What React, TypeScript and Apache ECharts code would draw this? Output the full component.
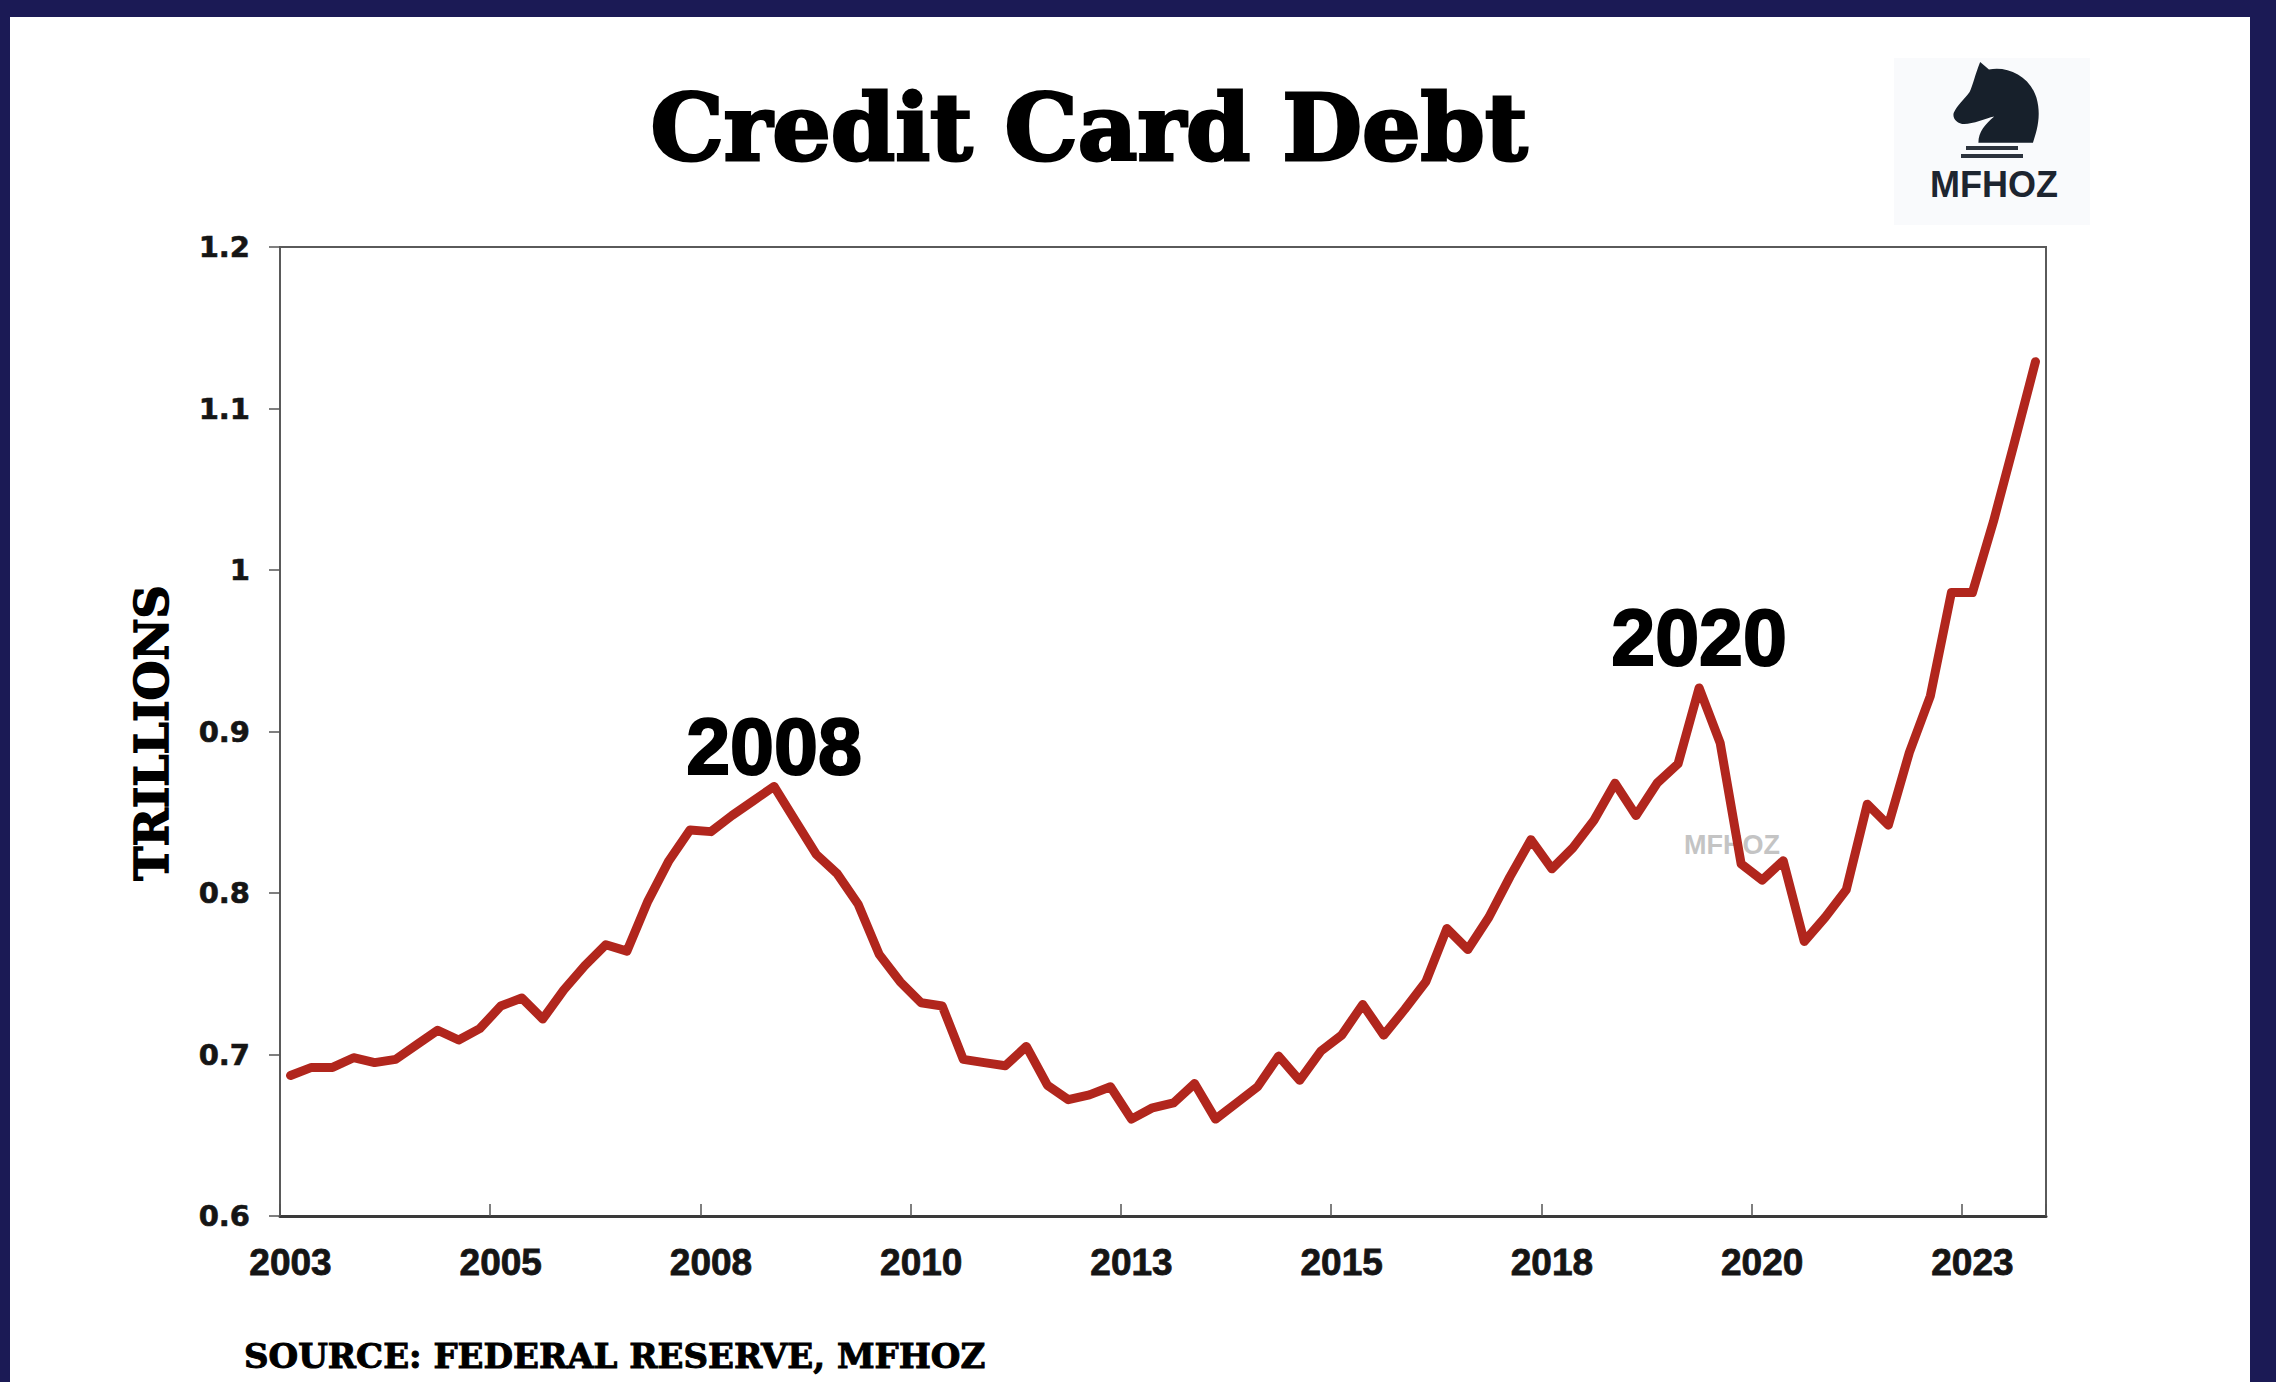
import React, { useEffect, useRef } from "react";
import * as echarts from "echarts";

// ---- DATA ----
const startYear = 2003;
const endYear = 2023;
const quarterNames = ["Q1", "Q2", "Q3", "Q4"];
// Credit card debt, trillions of dollars, quarterly 2003 Q1 .. 2023 Q4
const debtTrillions = [
  0.687, 0.692, 0.692, 0.698, // 2003
  0.695, 0.697, 0.706, 0.715, // 2004
  0.709, 0.716, 0.730, 0.735, // 2005
  0.722, 0.740, 0.755, 0.768, // 2006
  0.764, 0.795, 0.820, 0.839, // 2007
  0.838, 0.848, 0.857, 0.866, // 2008
  0.845, 0.824, 0.812, 0.793, // 2009
  0.762, 0.745, 0.732, 0.730, // 2010
  0.697, 0.695, 0.693, 0.705, // 2011
  0.681, 0.672, 0.675, 0.680, // 2012
  0.660, 0.667, 0.670, 0.682, // 2013
  0.660, 0.670, 0.680, 0.699, // 2014
  0.684, 0.702, 0.712, 0.731, // 2015
  0.712, 0.728, 0.745, 0.778, // 2016
  0.765, 0.785, 0.810, 0.833, // 2017
  0.815, 0.828, 0.845, 0.868, // 2018
  0.848, 0.868, 0.880, 0.927, // 2019
  0.893, 0.818, 0.808, 0.820, // 2020
  0.770, 0.785, 0.802, 0.855, // 2021
  0.842, 0.887, 0.922, 0.986, // 2022
  0.986, 1.030, 1.079, 1.129, // 2023
];
const peakAnnotations = [
  { text: "2008", quarter: "2008 Q4", lift: 40 },
  { text: "2020", quarter: "2019 Q4", lift: 50 },
];
const yMin = 0.6;
const yMax = 1.2;
const yStep = 0.1;
const labelEvery = 10; // quarters between x labels

const quarters: string[] = [];
for (let y = startYear; y <= endYear; y++) {
  for (const q of quarterNames) quarters.push(`${y} ${q}`);
}

// knight head silhouette (logo)
const knightPath =
  "M32 0 L42 8 C62 4 88 14 96 38 C102 58 96 74 92 86 L30 86 C30 74 38 66 48 58 C38 60 24 66 14 66 C6 66 0 60 2 54 C6 46 14 40 20 32 C24 24 26 14 32 0 Z";
let registered = false;
function registerShapes() {
  if (registered) return;
  registered = true;
  echarts.graphic.registerShape(
    "knight",
    (echarts.graphic as any).extendPath(knightPath, {})
  );
}

export default function App() {
  const ref = useRef<HTMLDivElement>(null);

  useEffect(() => {
    if (!ref.current) return;
    registerShapes();
    const chart = echarts.init(ref.current, undefined, { renderer: "svg" });

    const markData = peakAnnotations.map((a) => {
      const idx = quarters.indexOf(a.quarter);
      return {
        coord: [a.quarter, debtTrillions[idx]],
        label: {
          show: true,
          formatter: a.text,
          position: "inside" as const,
          offset: [0, -a.lift],
        },
      };
    });

    const option: any = {
      animation: false,
      backgroundColor: "#1b1a55",
      grid: {
        left: 280,
        right: 230,
        top: 247,
        bottom: 166,
        show: true,
        borderColor: "#5a5a5a",
        borderWidth: 2,
        backgroundColor: "transparent",
      },
      xAxis: {
        type: "category",
        data: quarters,
        boundaryGap: true,
        axisLine: { show: true, lineStyle: { color: "#3a3a3a", width: 3 } },
        axisTick: {
          show: true,
          interval: labelEvery - 1,
          inside: true,
          length: 12,
          lineStyle: { color: "#555", width: 1.5 },
        },
        axisLabel: {
          interval: labelEvery - 1,
          margin: 28,
          formatter: (v: string) => v.slice(0, 4),
          fontFamily: "Liberation Sans",
          fontWeight: "bold",
          fontSize: 37,
          color: "#151515",
          textBorderColor: "#151515",
          textBorderWidth: 0.8,
        },
        splitLine: { show: false },
      },
      yAxis: {
        type: "value",
        min: yMin,
        max: yMax,
        interval: yStep,
        axisLine: { show: true, lineStyle: { color: "#5a5a5a", width: 2 } },
        axisTick: { show: true, inside: false, length: 11, lineStyle: { color: "#555", width: 1.5 } },
        axisLabel: {
          margin: 30,
          formatter: (v: number) => String(Math.round(v * 10) / 10),
          fontFamily: "DejaVu Sans",
          fontWeight: "bold",
          fontSize: 29,
          color: "#151515",
          textBorderColor: "#151515",
          textBorderWidth: 0.6,
        },
        splitLine: { show: false },
      },
      series: [
        {
          type: "line",
          data: debtTrillions,
          symbol: "none",
          z: 5,
          lineStyle: { color: "#b1261d", width: 9, join: "round", cap: "round" },
          markPoint: {
            symbol: "circle",
            symbolSize: 1,
            itemStyle: { color: "rgba(0,0,0,0)" },
            label: {
              fontFamily: "Liberation Sans",
              fontWeight: "bold",
              fontSize: 79,
              color: "#000",
              textBorderColor: "#000",
              textBorderWidth: 2,
            },
            data: markData,
          },
        },
      ],
      graphic: [
        // white panel
        {
          type: "rect",
          z: -10,
          shape: { x: 10, y: 17, width: 2240, height: 1382 },
          style: { fill: "#ffffff" },
        },
        // logo backdrop
        {
          type: "rect",
          z: -5,
          shape: { x: 1894, y: 58, width: 196, height: 167 },
          style: { fill: "#f9fafc" },
        },
        {
          type: "knight",
          x: 1952,
          y: 62,
          scaleX: 0.88,
          scaleY: 0.94,
          style: { fill: "#17202b" },
        },
        { type: "rect", shape: { x: 1966, y: 146, width: 52, height: 4 }, style: { fill: "#2c333d" } },
        { type: "rect", shape: { x: 1961, y: 154, width: 62, height: 4 }, style: { fill: "#2c333d" } },
        {
          type: "text",
          x: 1994,
          y: 184,
          style: {
            text: "MFHOZ",
            fontFamily: "Liberation Sans",
            fontWeight: "bold",
            fontSize: 36,
            fill: "#1d2530",
            align: "center",
            verticalAlign: "middle",
          },
        },
        // title
        {
          type: "text",
          x: 1089,
          y: 128,
          style: {
            text: "Credit Card Debt",
            fontFamily: "DejaVu Serif",
            fontWeight: "bold",
            fontSize: 92,
            fill: "#000",
            stroke: "#000",
            lineWidth: 3,
            align: "center",
            verticalAlign: "middle",
          },
        },
        // y-axis title
        {
          type: "text",
          x: 152,
          y: 733,
          rotation: Math.PI / 2,
          style: {
            text: "TRILLIONS",
            fontFamily: "DejaVu Serif",
            fontWeight: "bold",
            fontSize: 46,
            fill: "#000",
            stroke: "#000",
            lineWidth: 1.5,
            align: "center",
            verticalAlign: "middle",
          },
        },
        // watermark
        {
          type: "text",
          x: 1732,
          y: 845,
          z: 1,
          style: {
            text: "MFHOZ",
            fontFamily: "Liberation Sans",
            fontWeight: "bold",
            fontSize: 27,
            fill: "#c4c4c4",
            align: "center",
            verticalAlign: "middle",
          },
        },
        // source
        {
          type: "text",
          x: 244,
          y: 1356,
          style: {
            text: "SOURCE: FEDERAL RESERVE, MFHOZ",
            fontFamily: "DejaVu Serif",
            fontWeight: "bold",
            fontSize: 34,
            fill: "#000",
            stroke: "#000",
            lineWidth: 1,
            align: "left",
            verticalAlign: "middle",
          },
        },
      ],
    };

    chart.setOption(option);
    return () => chart.dispose();
  }, []);

  return (
    <div
      ref={ref}
      style={{ position: "fixed", left: 0, top: 0, width: 2276, height: 1382 }}
    />
  );
}
